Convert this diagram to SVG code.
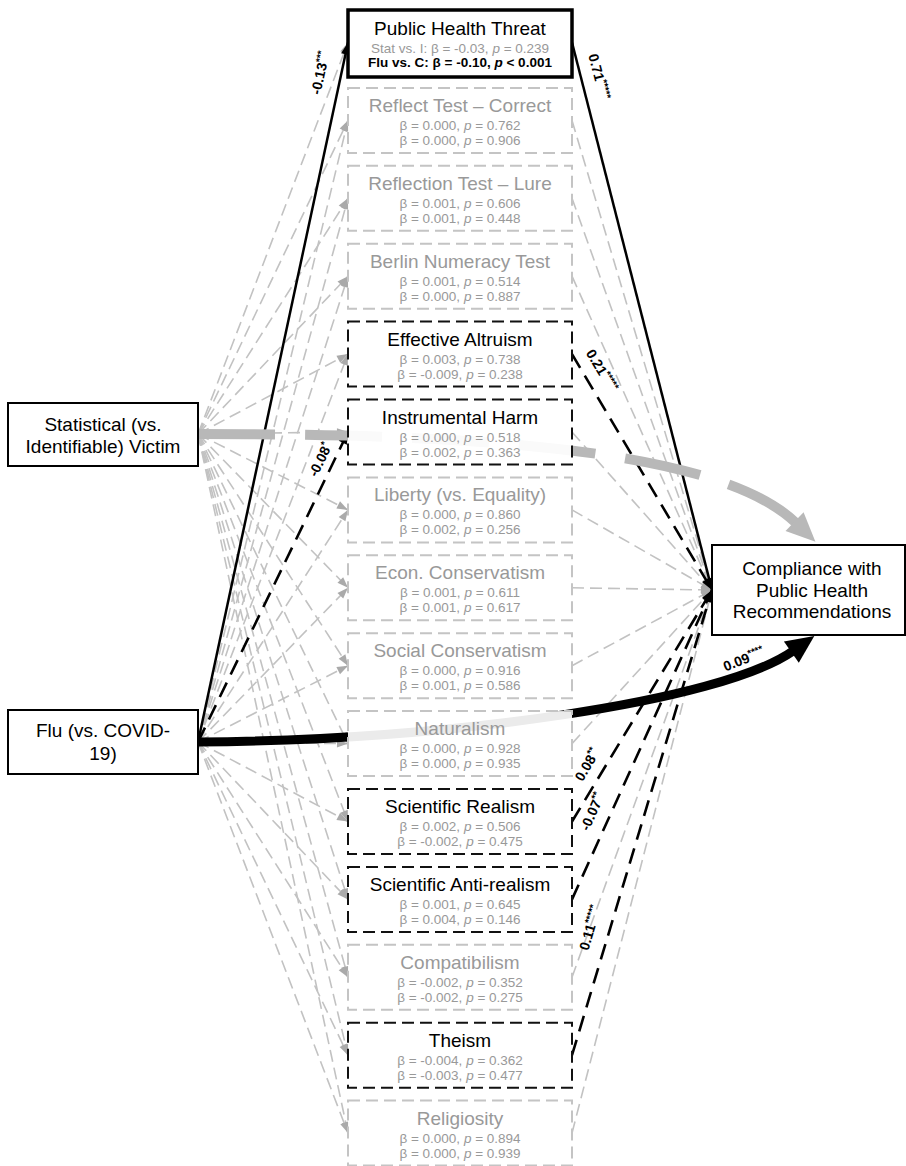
<svg xmlns="http://www.w3.org/2000/svg" width="906" height="1166" viewBox="0 0 906 1166">
<style>
text{font-family:"Liberation Sans",Arial,sans-serif}
.tt{font-size:19px;text-anchor:middle;fill:#000}
.tg{fill:#999}
.st{font-size:13.5px;text-anchor:middle;fill:#999}
.mb{fill:#fff;fill-opacity:.92;stroke-width:2;stroke-dasharray:12 6}
.mg{stroke:#c4c4c4}
.mk{stroke:#111}
.nb{fill:#fff;stroke:#000;stroke-width:2}
.cg{fill:none;stroke:#c2c2c2;stroke-width:1.6;stroke-dasharray:12 6;marker-end:url(#ag)}
.ck{fill:none;stroke:#000;stroke-width:2.5;marker-end:url(#ak)}
.ckd{fill:none;stroke:#000;stroke-width:2.6;stroke-dasharray:16 9;marker-end:url(#ak)}
.lb{font-size:14px;font-weight:bold;text-anchor:middle}
.sup{font-size:10px}
</style>
<defs>
<marker id="ag" markerUnits="userSpaceOnUse" markerWidth="12" markerHeight="9" refX="11" refY="4" orient="auto" overflow="visible"><path d="M0,0 L11,4 L0,8 z" fill="#aaa"/></marker>
<marker id="ak" markerUnits="userSpaceOnUse" markerWidth="12" markerHeight="10" refX="12" refY="4.5" orient="auto" overflow="visible"><path d="M0,0 L12,4.5 L0,9 z" fill="#000"/></marker>
<marker id="bg" markerUnits="userSpaceOnUse" markerWidth="28" markerHeight="28" refX="0" refY="0" orient="auto" overflow="visible"><path d="M-2,-13 L27,0 L-2,13 z" fill="#b8b8b8"/></marker>
<marker id="bk" markerUnits="userSpaceOnUse" markerWidth="28" markerHeight="28" refX="0" refY="0" orient="auto" overflow="visible"><path d="M-2,-13 L26,0 L-2,13 z" fill="#000"/></marker>
</defs>
<rect width="906" height="1166" fill="#fff"/>
<g id="connectors">
<path class="cg" d="M198,434 L348,42.5"/>
<path class="cg" d="M198,434 L348,120.4"/>
<path class="cg" d="M198,434 L348,198.3"/>
<path class="cg" d="M198,434 L348,276.2"/>
<path class="cg" d="M198,434 L348,354.1"/>
<path class="cg" d="M198,434 L348,432"/>
<path class="cg" d="M198,434 L348,509.9"/>
<path class="cg" d="M198,434 L348,587.8"/>
<path class="cg" d="M198,434 L348,665.7"/>
<path class="cg" d="M198,434 L348,743.6"/>
<path class="cg" d="M198,434 L348,821.5"/>
<path class="cg" d="M198,434 L348,899.4"/>
<path class="cg" d="M198,434 L348,977.3"/>
<path class="cg" d="M198,434 L348,1055.2"/>
<path class="cg" d="M198,434 L348,1133.1"/>
<path class="cg" d="M198,742 L348,120.4"/>
<path class="cg" d="M198,742 L348,198.3"/>
<path class="cg" d="M198,742 L348,276.2"/>
<path class="cg" d="M198,742 L348,354.1"/>
<path class="cg" d="M198,742 L348,509.9"/>
<path class="cg" d="M198,742 L348,587.8"/>
<path class="cg" d="M198,742 L348,665.7"/>
<path class="cg" d="M198,742 L348,743.6"/>
<path class="cg" d="M198,742 L348,821.5"/>
<path class="cg" d="M198,742 L348,899.4"/>
<path class="cg" d="M198,742 L348,977.3"/>
<path class="cg" d="M198,742 L348,1055.2"/>
<path class="cg" d="M198,742 L348,1133.1"/>
<path class="cg" d="M572,120.4 L712,590"/>
<path class="cg" d="M572,198.3 L712,590"/>
<path class="cg" d="M572,276.2 L712,590"/>
<path class="cg" d="M572,432 L712,590"/>
<path class="cg" d="M572,509.9 L712,590"/>
<path class="cg" d="M572,587.8 L712,590"/>
<path class="cg" d="M572,665.7 L712,590"/>
<path class="cg" d="M572,743.6 L712,590"/>
<path class="cg" d="M572,977.3 L712,590"/>
<path class="cg" d="M572,1133.1 L712,590"/>
<path class="ck" d="M198,742 L348,42.5"/>
<path class="ckd" d="M198,742 L348,432"/>
<path class="ck" d="M572,42.5 L712,590"/>
<path class="ckd" d="M572,354.1 L712,590"/>
<path class="ckd" d="M572,821.5 L712,590"/>
<path class="ckd" d="M572,899.4 L712,590"/>
<path class="ckd" d="M572,1055.2 L712,590"/>
<path d="M198,434 C450,434 715,445 796,523" fill="none" stroke="#b8b8b8" stroke-width="10" stroke-dasharray="77 30" marker-end="url(#bg)"/>
<path d="M198,742 C450,740 720,702 793,651" fill="none" stroke="#000" stroke-width="9" marker-end="url(#bk)"/>
</g>
<g id="node-statistical"><rect class="nb" x="8" y="403" width="190" height="63"/><text class="tt" x="103" y="431">Statistical (vs.</text><text class="tt" x="103" y="453">Identifiable) Victim</text></g>
<g id="node-flu"><rect class="nb" x="8" y="710" width="190" height="64"/><text class="tt" x="103" y="737">Flu (vs. COVID-</text><text class="tt" x="103" y="760">19)</text></g>
<g id="node-compliance"><rect class="nb" x="712" y="545" width="193" height="90"/><text class="tt" x="812" y="575">Compliance with</text><text class="tt" x="812" y="597">Public Health</text><text class="tt" x="812" y="618">Recommendations</text></g>
<g id="node-pht"><rect x="348" y="10" width="224" height="67" fill="#fff" stroke="#000" stroke-width="3.5"/><text class="tt" x="460" y="35">Public Health Threat</text><text class="st" x="460" y="53">Stat vs. I: β = -0.03, <tspan font-style="italic">p</tspan> = 0.239</text><text class="st" x="460" y="67" style="fill:#000;font-weight:bold">Flu vs. C: β = -0.10, <tspan font-style="italic">p</tspan> &lt; 0.001</text></g>
<g id="node-reflect-correct"><rect class="mb mg" x="348" y="87.9" width="224" height="65"/><text class="tt tg" x="460" y="111.9">Reflect Test – Correct</text><text class="st" x="460" y="129.9">β = 0.000, <tspan font-style="italic">p</tspan> = 0.762</text><text class="st" x="460" y="144.9">β = 0.000, <tspan font-style="italic">p</tspan> = 0.906</text></g>
<g id="node-reflect-lure"><rect class="mb mg" x="348" y="165.8" width="224" height="65"/><text class="tt tg" x="460" y="189.8">Reflection Test – Lure</text><text class="st" x="460" y="207.8">β = 0.001, <tspan font-style="italic">p</tspan> = 0.606</text><text class="st" x="460" y="222.8">β = 0.001, <tspan font-style="italic">p</tspan> = 0.448</text></g>
<g id="node-berlin"><rect class="mb mg" x="348" y="243.7" width="224" height="65"/><text class="tt tg" x="460" y="267.7">Berlin Numeracy Test</text><text class="st" x="460" y="285.7">β = 0.001, <tspan font-style="italic">p</tspan> = 0.514</text><text class="st" x="460" y="300.7">β = 0.000, <tspan font-style="italic">p</tspan> = 0.887</text></g>
<g id="node-altruism"><rect class="mb mk" x="348" y="321.6" width="224" height="65"/><text class="tt" x="460" y="345.6">Effective Altruism</text><text class="st" x="460" y="363.6">β = 0.003, <tspan font-style="italic">p</tspan> = 0.738</text><text class="st" x="460" y="378.6">β = -0.009, <tspan font-style="italic">p</tspan> = 0.238</text></g>
<g id="node-harm"><rect class="mb mk" x="348" y="399.5" width="224" height="65"/><text class="tt" x="460" y="423.5">Instrumental Harm</text><text class="st" x="460" y="441.5">β = 0.000, <tspan font-style="italic">p</tspan> = 0.518</text><text class="st" x="460" y="456.5">β = 0.002, <tspan font-style="italic">p</tspan> = 0.363</text></g>
<g id="node-liberty"><rect class="mb mg" x="348" y="477.4" width="224" height="65"/><text class="tt tg" x="460" y="501.4">Liberty (vs. Equality)</text><text class="st" x="460" y="519.4">β = 0.000, <tspan font-style="italic">p</tspan> = 0.860</text><text class="st" x="460" y="534.4">β = 0.002, <tspan font-style="italic">p</tspan> = 0.256</text></g>
<g id="node-econ"><rect class="mb mg" x="348" y="555.3" width="224" height="65"/><text class="tt tg" x="460" y="579.3">Econ. Conservatism</text><text class="st" x="460" y="597.3">β = 0.001, <tspan font-style="italic">p</tspan> = 0.611</text><text class="st" x="460" y="612.3">β = 0.001, <tspan font-style="italic">p</tspan> = 0.617</text></g>
<g id="node-social"><rect class="mb mg" x="348" y="633.2" width="224" height="65"/><text class="tt tg" x="460" y="657.2">Social Conservatism</text><text class="st" x="460" y="675.2">β = 0.000, <tspan font-style="italic">p</tspan> = 0.916</text><text class="st" x="460" y="690.2">β = 0.001, <tspan font-style="italic">p</tspan> = 0.586</text></g>
<g id="node-naturalism"><rect class="mb mg" x="348" y="711.1" width="224" height="65"/><text class="tt tg" x="460" y="735.1">Naturalism</text><text class="st" x="460" y="753.1">β = 0.000, <tspan font-style="italic">p</tspan> = 0.928</text><text class="st" x="460" y="768.1">β = 0.000, <tspan font-style="italic">p</tspan> = 0.935</text></g>
<g id="node-realism"><rect class="mb mk" x="348" y="789" width="224" height="65"/><text class="tt" x="460" y="813">Scientific Realism</text><text class="st" x="460" y="831">β = 0.002, <tspan font-style="italic">p</tspan> = 0.506</text><text class="st" x="460" y="846">β = -0.002, <tspan font-style="italic">p</tspan> = 0.475</text></g>
<g id="node-antirealism"><rect class="mb mk" x="348" y="866.9" width="224" height="65"/><text class="tt" x="460" y="890.9">Scientific Anti-realism</text><text class="st" x="460" y="908.9">β = 0.001, <tspan font-style="italic">p</tspan> = 0.645</text><text class="st" x="460" y="923.9">β = 0.004, <tspan font-style="italic">p</tspan> = 0.146</text></g>
<g id="node-compatibilism"><rect class="mb mg" x="348" y="944.8" width="224" height="65"/><text class="tt tg" x="460" y="968.8">Compatibilism</text><text class="st" x="460" y="986.8">β = -0.002, <tspan font-style="italic">p</tspan> = 0.352</text><text class="st" x="460" y="1001.8">β = -0.002, <tspan font-style="italic">p</tspan> = 0.275</text></g>
<g id="node-theism"><rect class="mb mk" x="348" y="1022.7" width="224" height="65"/><text class="tt" x="460" y="1046.7">Theism</text><text class="st" x="460" y="1064.7">β = -0.004, <tspan font-style="italic">p</tspan> = 0.362</text><text class="st" x="460" y="1079.7">β = -0.003, <tspan font-style="italic">p</tspan> = 0.477</text></g>
<g id="node-religiosity"><rect class="mb mg" x="348" y="1100.6" width="224" height="65"/><text class="tt tg" x="460" y="1124.6">Religiosity</text><text class="st" x="460" y="1142.6">β = 0.000, <tspan font-style="italic">p</tspan> = 0.894</text><text class="st" x="460" y="1157.6">β = 0.000, <tspan font-style="italic">p</tspan> = 0.939</text></g>
<g id="connector-labels">
<text class="lb" transform="translate(321,73) rotate(-77.9)" y="4">-0.13<tspan class="sup" dy="-5">***</tspan></text>
<text class="lb" transform="translate(598,77) rotate(75.7)" y="4">0.71<tspan class="sup" dy="-5">*****</tspan></text>
<text class="lb" transform="translate(601,371) rotate(59.1)" y="4">0.21<tspan class="sup" dy="-5">*****</tspan></text>
<text class="lb" transform="translate(321,460) rotate(-64.1)" y="4">-0.08<tspan class="sup" dy="-5">*</tspan></text>
<text class="lb" transform="translate(588,765) rotate(-59.7)" y="4">0.08<tspan class="sup" dy="-5">**</tspan></text>
<text class="lb" transform="translate(593,812) rotate(-66.2)" y="4">-0.07<tspan class="sup" dy="-5">**</tspan></text>
<text class="lb" transform="translate(591,928) rotate(-73.3)" y="4">0.11<tspan class="sup" dy="-5">*****</tspan></text>
<text class="lb" transform="translate(744,660) rotate(-21)" y="4">0.09<tspan class="sup" dy="-5">****</tspan></text>
</g>
</svg>
